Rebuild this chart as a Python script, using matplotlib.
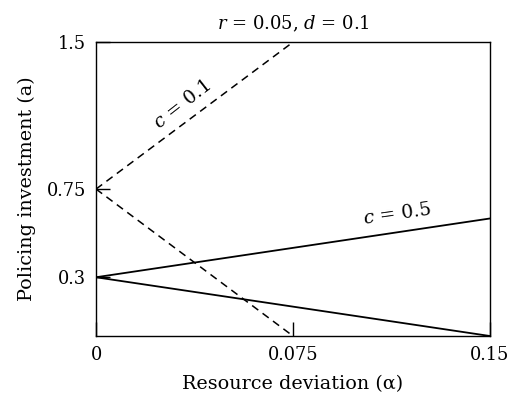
import numpy as np
import matplotlib
matplotlib.use("Agg")
import matplotlib.pyplot as plt

plt.rcParams["font.family"] = "DejaVu Serif"
plt.rcParams["mathtext.fontset"] = "dejavuserif"

# Data
alpha = [0.0, 0.15]
alpha_c01 = [0.0, 0.075]
c01_upper = [0.75, 1.5]
c01_lower = [0.75, 0.0]
c05_upper = [0.3, 0.6]
c05_lower = [0.3, 0.0]

x_ticks = [0, 0.075, 0.15]
x_tick_labels = ["0", "0.075", "0.15"]
y_ticks = [0.3, 0.75, 1.5]
y_tick_labels = ["0.3", "0.75", "1.5"]

fig = plt.figure(figsize=(5.23, 4.01), dpi=100)
ax = fig.add_axes([0.1836, 0.162, 0.7534, 0.733])

ax.plot(alpha_c01, c01_upper, color="black", linestyle="--", linewidth=1.1, dashes=(5, 3.5))
ax.plot(alpha_c01, c01_lower, color="black", linestyle="--", linewidth=1.1, dashes=(5, 3.5))
ax.plot(alpha, c05_upper, color="black", linewidth=1.3)
ax.plot(alpha, c05_lower, color="black", linewidth=1.3)

ax.text(0.0327, 1.18, r"$c$ = 0.1", fontsize=13.5, rotation=38,
        ha="center", va="center", rotation_mode="anchor")
ax.text(0.1146, 0.62, r"$c$ = 0.5", fontsize=13.5, rotation=8,
        ha="center", va="center", rotation_mode="anchor")

ax.set_xlim(0, 0.15)
ax.set_ylim(0, 1.5)
ax.set_xticks(x_ticks)
ax.set_xticklabels(x_tick_labels)
ax.set_yticks(y_ticks)
ax.set_yticklabels(y_tick_labels)
ax.tick_params(direction="in", length=10, width=1, labelsize=12.8, pad=7)

for s in ax.spines.values():
    s.set_linewidth(1.0)

ax.set_xlabel("Resource deviation (α)", fontsize=13.8, labelpad=8)
ax.set_ylabel("Policing investment (a)", fontsize=13.8, labelpad=8)
ax.set_title(r"$r$ = 0.05, $d$ = 0.1", fontsize=13, pad=9)

fig.savefig("out.png", dpi=100)
